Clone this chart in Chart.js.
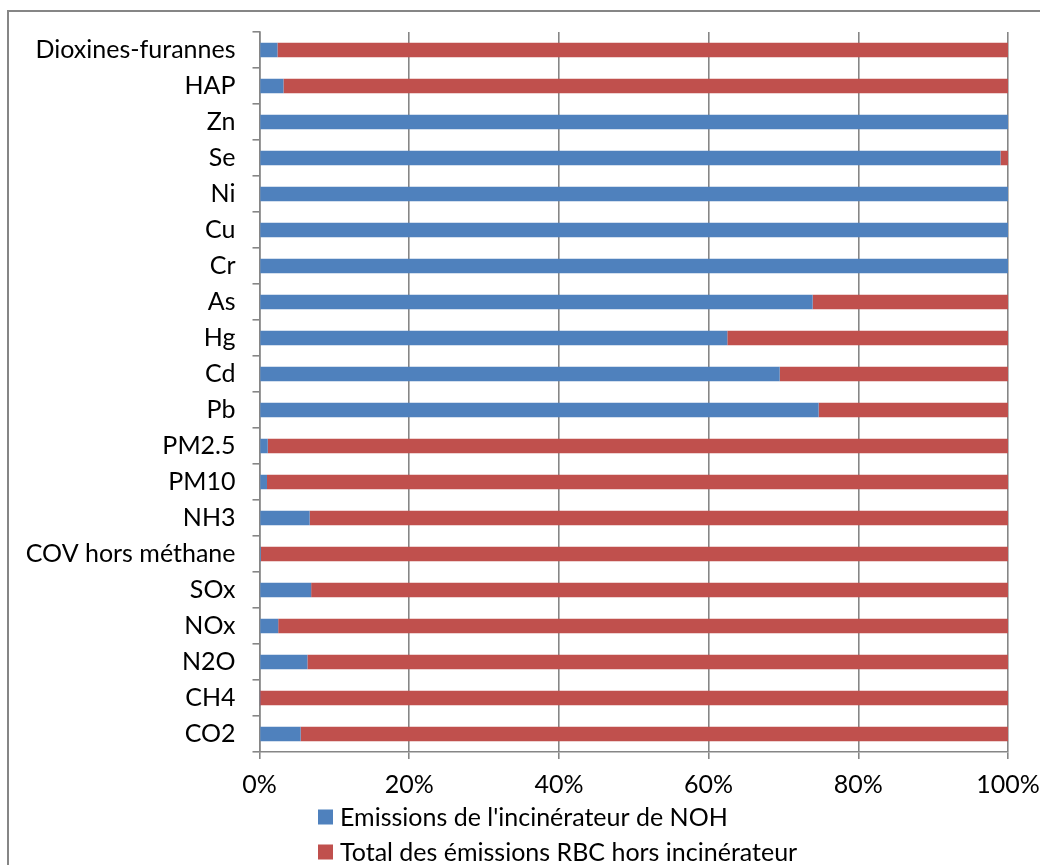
<!DOCTYPE html>
<html>
<head>
<meta charset="utf-8">
<script src="https://cdn.jsdelivr.net/npm/chart.js@4"></script>
<style>
  html, body { margin: 0; padding: 0; background: #ffffff; }
  #wrap { width: 1040px; height: 865px; }
</style>
</head>
<body>
<div id="wrap"><canvas id="chart" width="1040" height="865"></canvas></div>
<script>
// Pollutants, listed from top to bottom
const categories = [
  'Dioxines-furannes', 'HAP', 'Zn', 'Se', 'Ni', 'Cu', 'Cr', 'As', 'Hg', 'Cd',
  'Pb', 'PM2.5', 'PM10', 'NH3', 'COV hors méthane', 'SOx', 'NOx', 'N2O', 'CH4', 'CO2'
];

// Share of emissions (%) from the NOH incinerator
const incinerateurValues = [
  2.4, 3.2, 100, 99.0, 100, 100, 100, 73.9, 62.5, 69.5,
  74.7, 1.1, 1.0, 6.7, 0.2, 6.9, 2.5, 6.4, 0.05, 5.5
];

// Share of emissions (%) from the rest of the region
const rbcValues = [
  97.6, 96.8, 0, 1.0, 0, 0, 0, 26.1, 37.5, 30.5,
  25.3, 98.9, 99.0, 93.3, 99.8, 93.1, 97.5, 93.6, 99.95, 94.5
];

const seriesNames = [
  "Emissions de l'incinérateur de NOH",
  'Total des émissions RBC hors incinérateur'
];

const xTicks = [0, 20, 40, 60, 80, 100];

const BLUE = '#4F81BD';
const RED = '#C0504D';
const GREY = '#868686';
const FONT = 'Lato, "Open Sans", sans-serif';
const FONT_SIZE = 25;

// Outer frame of the chart object
const framePlugin = {
  id: 'frame',
  beforeDraw(chart) {
    const ctx = chart.ctx;
    ctx.save();
    ctx.fillStyle = '#ffffff';
    ctx.fillRect(0, 0, chart.width, chart.height);
    ctx.strokeStyle = GREY;
    ctx.lineWidth = 2;
    ctx.strokeRect(8, 11, chart.width + 40, chart.height + 40);
    ctx.restore();
  }
};

// Legend stacked vertically under the axis
const stackedLegend = {
  id: 'stackedLegend',
  afterDraw(chart) {
    const ctx = chart.ctx;
    const x0 = chart.chartArea.left + 58.5;
    const y0 = chart.chartArea.bottom + 65;
    const rowGap = 35;
    const box = 15;
    ctx.save();
    ctx.font = FONT_SIZE + 'px ' + FONT;
    ctx.textBaseline = 'middle';
    ctx.textAlign = 'left';
    chart.data.datasets.forEach((ds, i) => {
      const cy = y0 + i * rowGap;
      ctx.fillStyle = ds.backgroundColor;
      ctx.fillRect(x0, cy - box / 2, box, box);
      ctx.fillStyle = '#000000';
      ctx.fillText(ds.label, x0 + box + 7, cy + 1);
    });
    ctx.restore();
  }
};

new Chart(document.getElementById('chart'), {
  type: 'bar',
  data: {
    labels: categories,
    datasets: [
      {
        label: seriesNames[0],
        data: incinerateurValues,
        backgroundColor: BLUE,
        categoryPercentage: 1,
        barPercentage: 0.4
      },
      {
        label: seriesNames[1],
        data: rbcValues,
        backgroundColor: RED,
        categoryPercentage: 1,
        barPercentage: 0.4
      }
    ]
  },
  options: {
    indexAxis: 'y',
    responsive: false,
    animation: false,
    devicePixelRatio: 1,
    layout: { padding: { left: 0, right: 32, top: 32, bottom: 0 } },
    plugins: {
      legend: { display: false },
      tooltip: { enabled: false }
    },
    scales: {
      x: {
        stacked: true,
        min: 0,
        max: 100,
        afterBuildTicks(scale) {
          scale.ticks = xTicks.map(v => ({ value: v }));
        },
        afterFit(scale) {
          scale.height = 113;
          scale.paddingLeft = 0;
          scale.paddingRight = 0;
        },
        ticks: {
          color: '#000000',
          font: { family: FONT, size: FONT_SIZE },
          padding: 11,
          maxRotation: 0,
          callback: v => v + '%'
        },
        grid: {
          color: GREY,
          lineWidth: 1.6,
          tickLength: 7,
          drawTicks: true
        },
        border: { display: true, color: GREY, width: 1.6 }
      },
      y: {
        stacked: true,
        afterFit(scale) {
          scale.width = 259.5;
          scale.paddingTop = 0;
          scale.paddingBottom = 0;
        },
        ticks: {
          color: '#000000',
          font: { family: FONT, size: FONT_SIZE },
          padding: 17
        },
        grid: {
          display: true,
          drawOnChartArea: false,
          drawTicks: true,
          tickLength: 7,
          color: GREY,
          lineWidth: 1.6,
          offset: true
        },
        border: { display: true, color: GREY, width: 1.6 }
      }
    }
  },
  plugins: [framePlugin, stackedLegend]
});
</script>
</body>
</html>
